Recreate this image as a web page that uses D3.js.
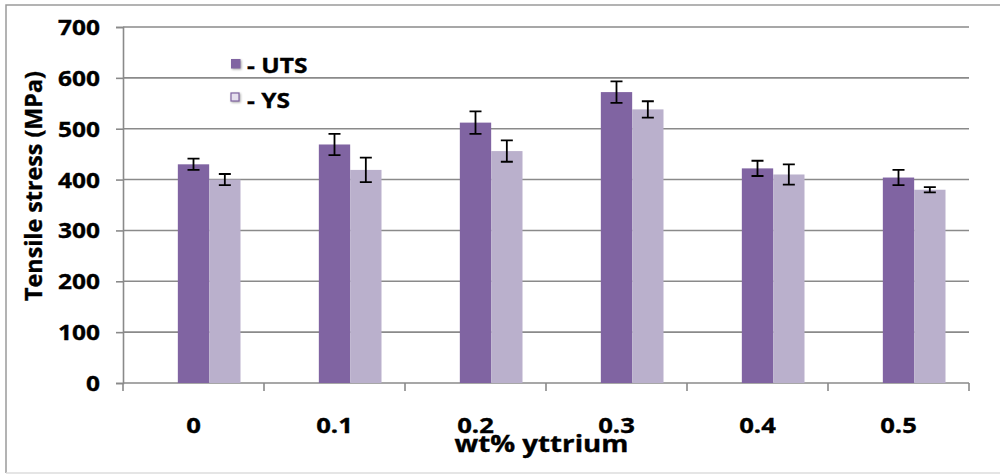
<!DOCTYPE html>
<html>
<head>
<meta charset="utf-8">
<script src="https://cdn.jsdelivr.net/npm/d3@7"></script>
<style>
  html, body { margin: 0; padding: 0; background: #fff; }
  svg { display: block; }
  text { font-family: "Open Sans", Lato, sans-serif; font-weight: 700; fill: #000; stroke: #000; stroke-width: 0.35px; }
</style>
</head>
<body>
<svg id="chart" width="1000" height="475"></svg>
<script>
// Yttrium content (wt%) for each alloy
const categories = ["0", "0.1", "0.2", "0.3", "0.4", "0.5"];
// Ultimate tensile strength, MPa, with error bar half-widths
const utsValues = [430, 469, 512, 572, 422, 404];
const utsErrors = [11, 21, 22, 21, 15, 15];
// Yield strength, MPa, with error bar half-widths
const ysValues = [400, 419, 456, 538, 410, 380];
const ysErrors = [11, 24, 21, 16, 20, 5];
// Value axis ticks
const yTicks = [0, 100, 200, 300, 400, 500, 600, 700];

const seriesKeys = ["UTS", "YS"];
const seriesColors = { UTS: "#8064A2", YS: "#BAB0CC" };
const seriesLabels = { UTS: "- UTS", YS: "- YS" };

const svg = d3.select("#chart");
const plot = { left: 123, right: 969, top: 27, bottom: 383 };
const gridColor = "#8a8a8a";

// Horizontal stretch applied to labels so they read wide like the chart's font
function stretchFor(sample, size, targetWidth) {
  const t = svg.append("text").style("font-size", size + "px").text(sample);
  const w = t.node().getComputedTextLength();
  t.remove();
  return targetWidth / w;
}
const labelStretch = stretchFor("700", 21, 42);

// Outer chart frame
svg.append("path")
  .attr("d", "M6,473 V5 H1000")
  .attr("fill", "none").attr("stroke", "#9a9a9a").attr("stroke-width", 1.5);
svg.append("line")
  .attr("x1", 6).attr("x2", 1000).attr("y1", 473).attr("y2", 473)
  .attr("stroke", "#dcdcdc").attr("stroke-width", 1.5);

const x0 = d3.scaleBand()
  .domain(categories)
  .range([plot.left, plot.right])
  .paddingInner(1 / 3)
  .paddingOuter(1 / 6);

// Each cluster keeps three slots; the first one stays empty
const x1 = d3.scaleBand()
  .domain(["", ...seriesKeys])
  .range([0, x0.bandwidth()]);

const y = d3.scaleLinear().domain([0, 700]).range([plot.bottom, plot.top]);

// Horizontal gridlines
svg.append("g").selectAll("line")
  .data(yTicks.filter(t => t > 0))
  .join("line")
  .attr("x1", plot.left).attr("x2", plot.right)
  .attr("y1", d => y(d)).attr("y2", d => y(d))
  .attr("stroke", gridColor).attr("stroke-width", 1.6);

// Left axis
const yAxis = svg.append("g")
  .attr("transform", `translate(${plot.left},0)`)
  .call(d3.axisLeft(y).tickValues(yTicks).tickSize(7).tickPadding(0));
yAxis.select(".domain").attr("stroke", gridColor).attr("stroke-width", 1.6);
yAxis.selectAll(".tick line").attr("stroke", gridColor).attr("stroke-width", 1.6);
yAxis.selectAll(".tick text")
  .attr("x", null).attr("dy", "0.36em")
  .attr("transform", `translate(-23,0) scale(${labelStretch},1)`)
  .style("font-size", "21px").style("font-family", "'Open Sans', sans-serif")
  .style("font-weight", 700).attr("fill", "#000");

// Bottom axis with ticks on the category boundaries
const boundaries = d3.range(categories.length + 1)
  .map(i => plot.left + i * x0.step());
const xAxisG = svg.append("g");
xAxisG.append("line")
  .attr("x1", plot.left).attr("x2", plot.right)
  .attr("y1", plot.bottom).attr("y2", plot.bottom)
  .attr("stroke", gridColor).attr("stroke-width", 1.6);
xAxisG.selectAll("line.tick")
  .data(boundaries)
  .join("line").attr("class", "tick")
  .attr("x1", d => d).attr("x2", d => d)
  .attr("y1", plot.bottom).attr("y2", plot.bottom + 8)
  .attr("stroke", gridColor).attr("stroke-width", 1.6);
xAxisG.selectAll("text")
  .data(categories)
  .join("text")
  .attr("text-anchor", "middle")
  .attr("transform", (d, i) => `translate(${(boundaries[i] + boundaries[i + 1]) / 2},433) scale(${labelStretch},1)`)
  .style("font-size", "22px")
  .text(d => d);

// Bars
const rows = categories.map((c, i) => ({
  category: c,
  UTS: { value: utsValues[i], err: utsErrors[i] },
  YS: { value: ysValues[i], err: ysErrors[i] }
}));

const groups = svg.append("g").selectAll("g")
  .data(rows)
  .join("g")
  .attr("transform", d => `translate(${x0(d.category)},0)`);

const bars = groups.selectAll("g.bar")
  .data(d => seriesKeys.map(k => ({ key: k, value: d[k].value, err: d[k].err })))
  .join("g").attr("class", "bar");

bars.append("rect")
  .attr("x", d => x1(d.key))
  .attr("width", x1.bandwidth())
  .attr("y", d => y(d.value))
  .attr("height", d => y(0) - y(d.value))
  .attr("fill", d => seriesColors[d.key]);

// Error bars
const cap = 6;
bars.append("path")
  .attr("d", d => {
    const cx = x1(d.key) + x1.bandwidth() / 2;
    const t = y(d.value + d.err), b = y(d.value - d.err);
    return `M${cx},${t}V${b}M${cx - cap},${t}H${cx + cap}M${cx - cap},${b}H${cx + cap}`;
  })
  .attr("fill", "none").attr("stroke", "#000").attr("stroke-width", 1.8);

// Legend
const legend = svg.append("g");
const legendRows = legend.selectAll("g")
  .data(seriesKeys)
  .join("g")
  .attr("transform", (d, i) => `translate(231,${i === 0 ? 59 : 93})`);
legendRows.append("rect")
  .attr("width", (d, i) => i === 0 ? 9.5 : 8)
  .attr("height", (d, i) => i === 0 ? 9.5 : 8)
  .attr("fill", d => d === "UTS" ? seriesColors.UTS : "#E6E0EE")
  .attr("stroke", d => d === "UTS" ? "none" : "#8064A2")
  .attr("stroke-width", 1.2)
  .style("filter", "drop-shadow(1px 1px 1px rgba(0,0,0,0.35))");
legendRows.append("text")
  .attr("transform", (d, i) => `translate(16,${i === 0 ? 14 : 14.5}) scale(${labelStretch},1)`)
  .style("font-size", "21px")
  .text(d => seriesLabels[d]);

// Axis titles
const xTitleStretch = stretchFor("wt% yttrium", 23, 174);
svg.append("text")
  .attr("text-anchor", "middle")
  .attr("transform", `translate(541.5,452) scale(${xTitleStretch},1)`)
  .style("font-size", "23px")
  .text("wt% yttrium");

const yTitleStretch = stretchFor("Tensile stress (MPa)", 23, 230);
svg.append("text")
  .attr("text-anchor", "middle")
  .attr("transform", `translate(42,186) rotate(-90) scale(${yTitleStretch},1)`)
  .style("font-size", "23px")
  .text("Tensile stress (MPa)");
</script>
</body>
</html>
